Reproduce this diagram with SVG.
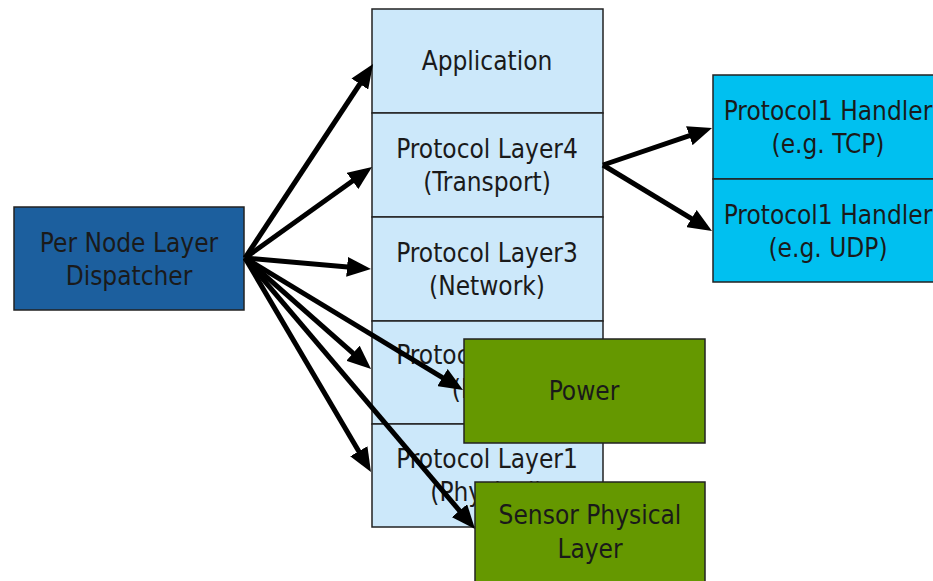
<svg xmlns="http://www.w3.org/2000/svg" width="933" height="581" viewBox="0 0 933 581">
<style>
  text { font-family: "DejaVu Sans Condensed", "DejaVu Sans", "Liberation Sans", sans-serif; font-size: 26px; fill: #1a1a1a; text-anchor: middle; }
  .layer { fill: #cce8fa; stroke: #222; stroke-width: 1.5; }
  .disp { fill: #1c5f9e; stroke: #222; stroke-width: 1.5; }
  .hand { fill: #00c0f0; stroke: #222; stroke-width: 1.5; }
  .green { fill: #659800; stroke: #222; stroke-width: 1.5; }
  .conn line { stroke: #000; stroke-width: 5; marker-end: url(#ah); }
</style>
<defs>
  <marker id="ah" markerUnits="userSpaceOnUse" viewBox="0 0 24 20" markerWidth="24" markerHeight="20" refX="15" refY="10" orient="auto">
    <path d="M0,0 L24,10 L0,20 z" fill="#000"/>
  </marker>
</defs>
<rect width="933" height="581" fill="#fff"/>

<g id="application"><rect class="layer" x="372" y="9" width="231" height="104"/><text x="487" y="70">Application</text></g>
<g id="layer4"><rect class="layer" x="372" y="113" width="231" height="104"/><text x="487" y="158">Protocol Layer4</text><text x="487" y="191">(Transport)</text></g>
<g id="layer3"><rect class="layer" x="372" y="217" width="231" height="104"/><text x="487" y="262">Protocol Layer3</text><text x="487" y="295">(Network)</text></g>
<g id="layer2"><rect class="layer" x="372" y="321" width="231" height="103"/><text x="487" y="364">Protocol Layer2</text><text x="487" y="398">(MAC)</text></g>
<g id="layer1"><rect class="layer" x="372" y="424" width="231" height="103"/><text x="487" y="468">Protocol Layer1</text><text x="487" y="501">(Physical)</text></g>

<g id="dispatcher"><rect class="disp" x="14" y="207" width="230" height="103"/><text x="129" y="252">Per Node Layer</text><text x="129" y="285">Dispatcher</text></g>

<g id="handler-tcp"><rect class="hand" x="713" y="75" width="240" height="104"/><text x="828" y="120">Protocol1 Handler</text><text x="828" y="153">(e.g. TCP)</text></g>
<g id="handler-udp"><rect class="hand" x="713" y="179" width="240" height="103"/><text x="828" y="224">Protocol1 Handler</text><text x="828" y="257">(e.g. UDP)</text></g>

<g class="conn" id="connectors">
  <line x1="245" y1="258" x2="368.1" y2="71.5"/>
  <line x1="245" y1="258" x2="364.7" y2="172.2"/>
  <line x1="245" y1="258" x2="362.0" y2="268.2"/>
  <line x1="245" y1="258" x2="364.3" y2="363.1"/>
  <line x1="245" y1="258" x2="455.3" y2="385.3"/>
  <line x1="245" y1="258" x2="366.4" y2="464.2"/>
  <line x1="245" y1="258" x2="469.2" y2="522.1"/>
  <line x1="603" y1="165" x2="703.5" y2="130.9"/>
  <line x1="603" y1="165" x2="704.3" y2="226.3"/>
</g>

<g id="power"><rect class="green" x="464" y="339" width="241" height="104"/><text x="584" y="400">Power</text></g>
<g id="sensor"><rect class="green" x="475" y="482" width="230" height="110"/><text x="590" y="524">Sensor Physical</text><text x="590" y="558">Layer</text></g>
</svg>
